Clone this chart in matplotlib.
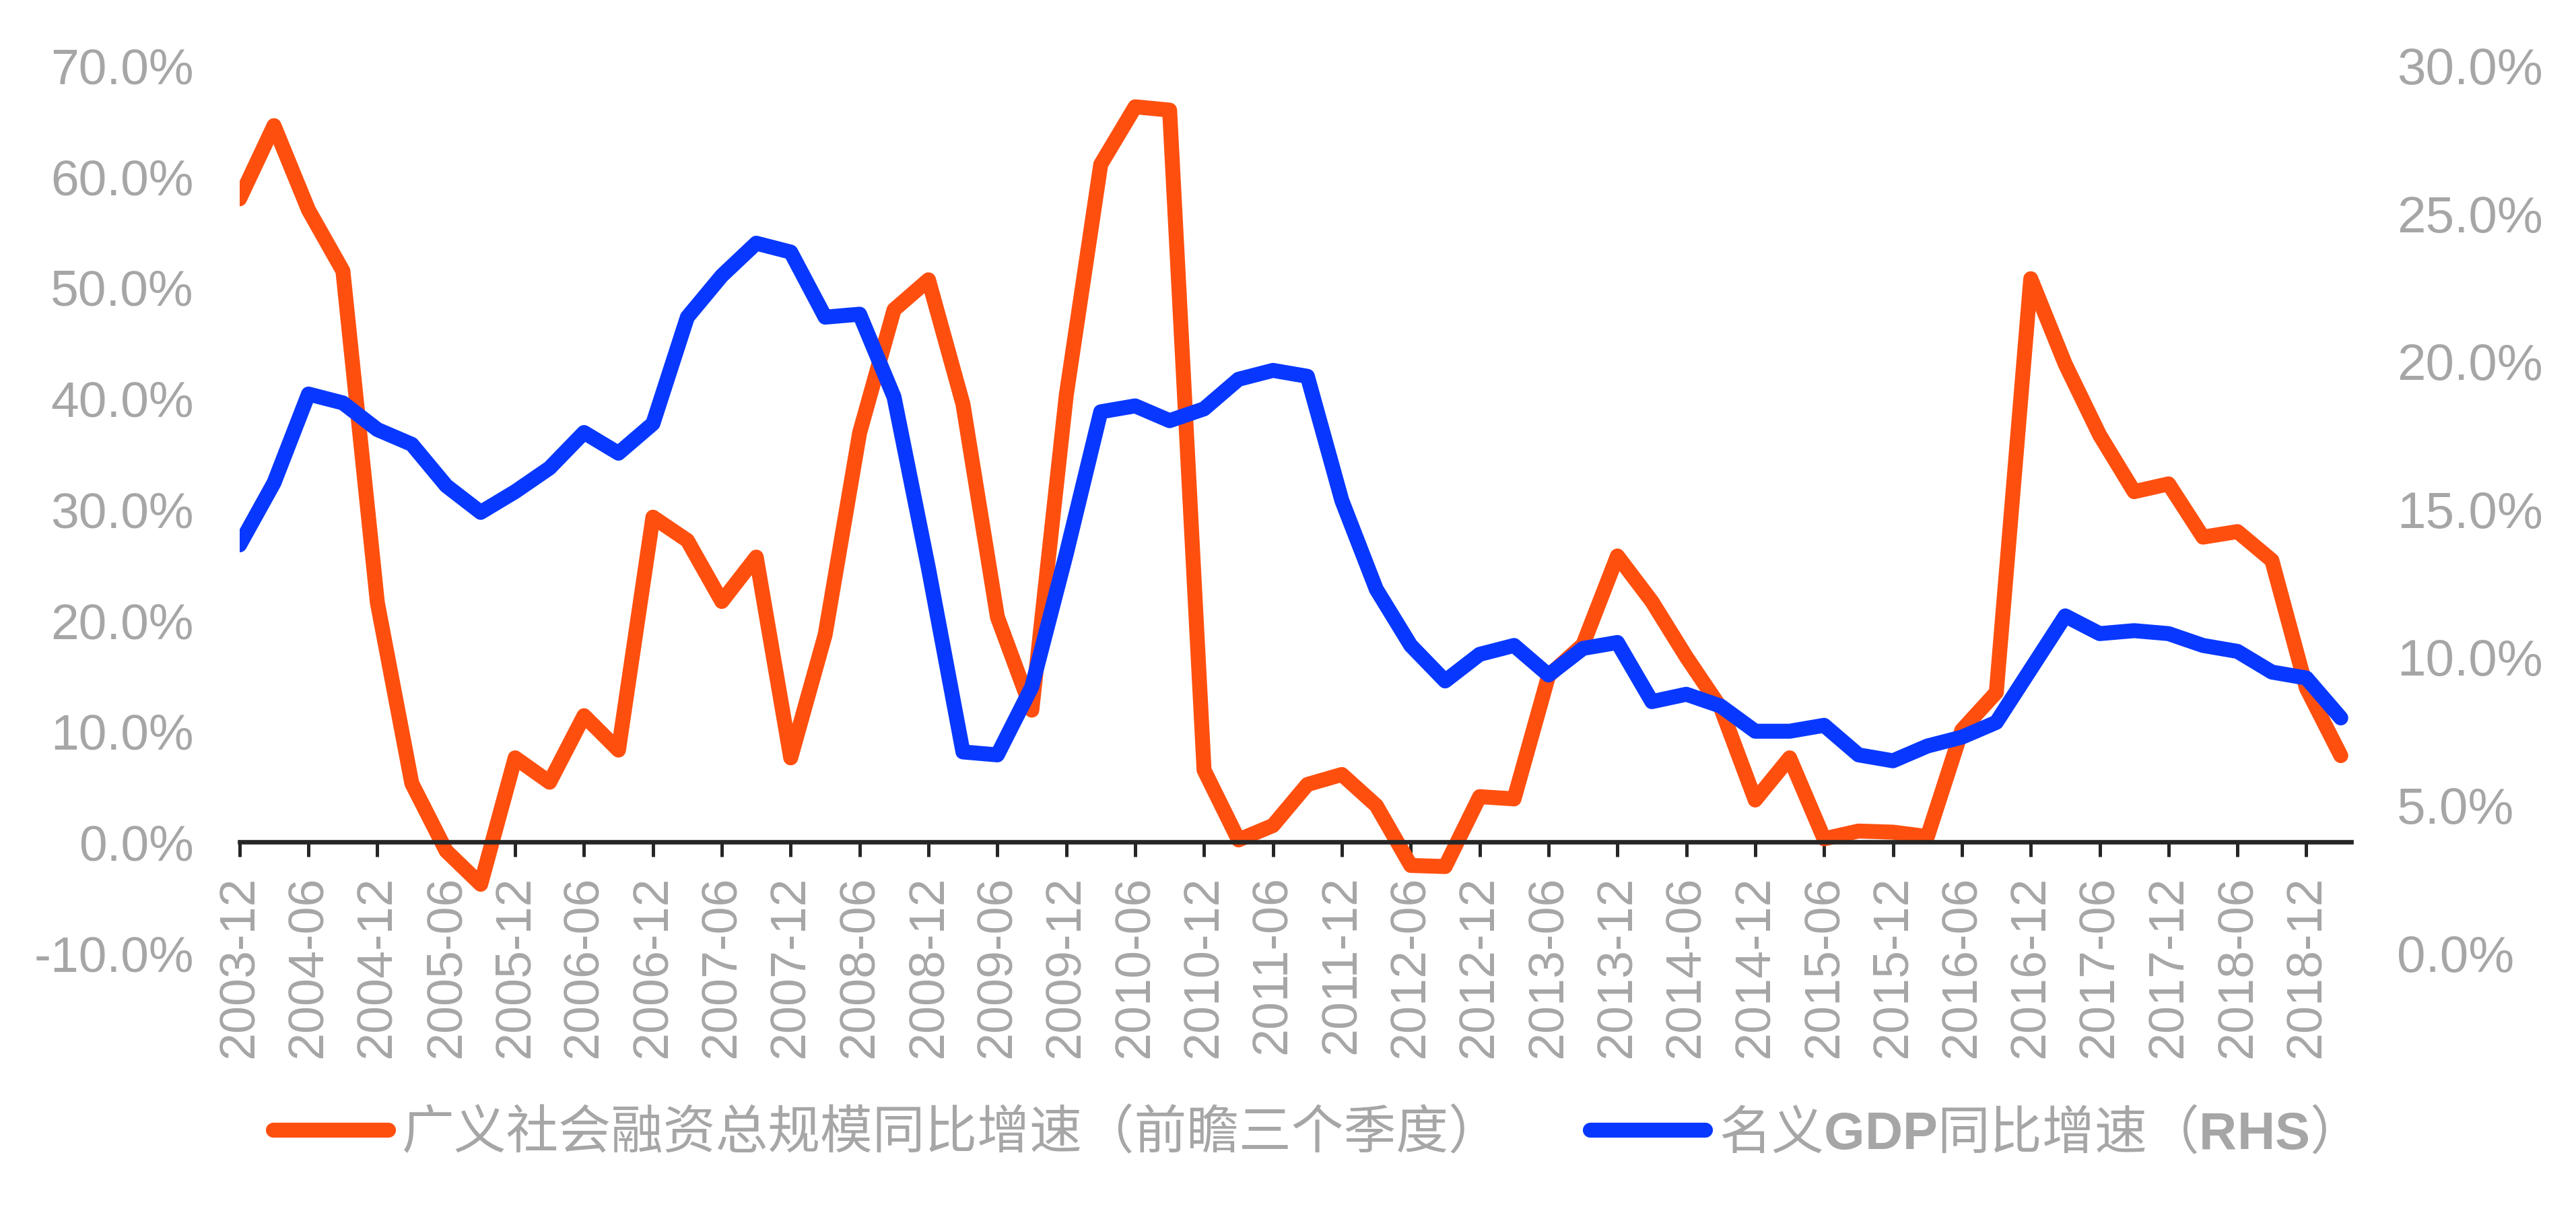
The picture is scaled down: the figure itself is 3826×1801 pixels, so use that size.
import matplotlib.pyplot as plt
from matplotlib.ticker import FuncFormatter

# 广义社融同比（前瞻三个季度），左轴，%
tsf_growth = [58.0, 64.6, 57.0, 51.5, 21.6, 5.3, -0.8, -3.8, 7.6, 5.4, 11.4, 8.3,
              29.3, 27.2, 21.7, 25.7, 7.6, 18.7, 36.9, 48.0, 50.7, 39.5, 20.3, 11.9,
              40.3, 61.1, 66.3, 66.0, 6.5, 0.2, 1.5, 5.2, 6.1, 3.3, -2.1, -2.2,
              4.1, 3.9, 15.0, 17.8, 25.8, 21.7, 16.7, 12.1, 3.8, 7.6, 0.3, 1.0,
              0.9, 0.5, 10.1, 13.5, 50.8, 43.1, 36.7, 31.6, 32.3, 27.5, 28.0, 25.4,
              13.9, 7.8]

# 名义GDP同比，右轴，%
gdp_growth = [13.8, 15.9, 18.9, 18.6, 17.7, 17.2, 15.8, 14.9, 15.6, 16.4, 17.6, 16.9,
              17.9, 21.5, 22.9, 24.0, 23.7, 21.5, 21.6, 18.8, 13.0, 6.8, 6.7, 9.0,
              13.5, 18.3, 18.5, 18.0, 18.4, 19.4, 19.7, 19.5, 15.3, 12.3, 10.4, 9.2,
              10.1, 10.4, 9.4, 10.3, 10.5, 8.5, 8.75, 8.35, 7.5, 7.5, 7.7, 6.7,
              6.5, 7.0, 7.3, 7.8, 9.6, 11.4, 10.8, 10.9, 10.8, 10.4, 10.2, 9.5,
              9.3, 7.95]

tick_labels = ["2003-12", "2004-06", "2004-12", "2005-06", "2005-12", "2006-06",
               "2006-12", "2007-06", "2007-12", "2008-06", "2008-12", "2009-06",
               "2009-12", "2010-06", "2010-12", "2011-06", "2011-12", "2012-06",
               "2012-12", "2013-06", "2013-12", "2014-06", "2014-12", "2015-06",
               "2015-12", "2016-06", "2016-12", "2017-06", "2017-12", "2018-06",
               "2018-12"]

label_tsf = "广义社会融资总规模同比增速（前瞻三个季度）"
label_gdp = r"名义$\mathbf{GDP}$同比增速（$\mathbf{RHS}$）"

ORANGE = "#FF4F0F"
BLUE = "#0838FF"
GREY = "#A6A6A6"

plt.rcParams["font.family"] = ["Liberation Sans", "DejaVu Sans"]
plt.rcParams["mathtext.fontset"] = "custom"
plt.rcParams["mathtext.bf"] = "Liberation Sans:bold"
plt.rcParams["mathtext.rm"] = "Liberation Sans"

fig = plt.figure(figsize=(38.26, 18.01), dpi=100)
ax = fig.add_axes([0.0930, 0.2143, 0.8197, 0.7315])
ax2 = ax.twinx()

x = list(range(len(tsf_growth)))
l1, = ax.plot(x, tsf_growth, color=ORANGE, lw=16, solid_capstyle="round",
              solid_joinstyle="round", label=label_tsf)
l2, = ax2.plot(x, gdp_growth, color=BLUE, lw=16, solid_capstyle="round",
               solid_joinstyle="round", label=label_gdp)

ax.set_xlim(0, 61.3)
ax.set_ylim(-10, 70)
ax2.set_ylim(0, 30)
ax.set_yticks(range(-10, 71, 10))
ax2.set_yticks(range(0, 31, 5))
pct = FuncFormatter(lambda v, _: f"{v:.1f}%")
ax.yaxis.set_major_formatter(pct)
ax2.yaxis.set_major_formatter(pct)

ax.set_xticks(range(0, len(tick_labels) * 2, 2))
ax.set_xticklabels(tick_labels)

for a in (ax, ax2):
    for s in ("top", "left", "right"):
        a.spines[s].set_visible(False)
ax2.spines["bottom"].set_visible(False)
ax.spines["bottom"].set_position(("data", 0))
ax.spines["bottom"].set_color("#262626")
ax.spines["bottom"].set_linewidth(4.8)

ax.tick_params(axis="x", direction="out", length=16, width=3.6, color="#262626",
               labelsize=53, labelcolor=GREY, pad=20, labelrotation=90)
ax.tick_params(axis="y", length=0, labelsize=54, labelcolor=GREY, pad=49)
ax2.tick_params(axis="y", length=0, labelsize=55, labelcolor=GREY, pad=49)

fig.legend(handles=[l1, l2], loc="center", bbox_to_anchor=(0.5047, 0.065), ncol=2,
           frameon=False, handlelength=2.2, handletextpad=0.26, columnspacing=1.7,
           prop={"family": ["Noto Sans CJK SC", "DejaVu Sans"], "size": 56},
           labelcolor=GREY)

fig.savefig("out.png", dpi=100)
